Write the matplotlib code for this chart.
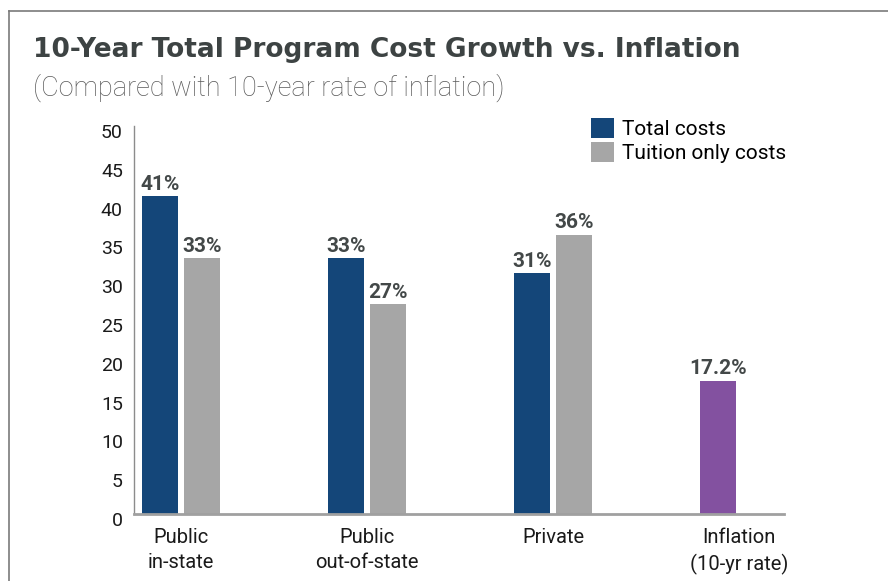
import numpy as np
import matplotlib
matplotlib.use("Agg")
import matplotlib.pyplot as plt
from matplotlib.lines import Line2D
from matplotlib.transforms import ScaledTranslation

# bar data (percent growth over 10 years)
categories = ['Public\nin-state', 'Public\nout-of-state', 'Private', 'Inflation\n(10-yr rate)']
total_costs = [41, 33, 31]
tuition_costs = [33, 27, 36]
inflation_rate = 17.2
y_ticks = [0, 5, 10, 15, 20, 25, 30, 35, 40, 45, 50]

BLUE = '#144679'
GRAY = '#a6a6a6'
PURPLE = '#8351a0'
LABEL_COLOR = '#434848'
TITLE_COLOR = '#3d4343'

plt.rcParams['font.family'] = ['Roboto', 'DejaVu Sans']

fig = plt.figure(figsize=(8.88, 5.81), dpi=100)
ax = fig.add_axes([134 / 888, 67 / 581, 650 / 888, 388 / 581])

x = np.arange(len(categories))
width = 0.194
off = 0.113

b1 = ax.bar(x[:3] - off, total_costs, width, color=BLUE, label='Total costs')
b2 = ax.bar(x[:3] + off, tuition_costs, width, color=GRAY, label='Tuition only costs')
b3 = ax.bar(x[3] - off, inflation_rate, width, color=PURPLE)

# value labels above each bar
for bars, vals in ((b1, total_costs), (b2, tuition_costs), (b3, [inflation_rate])):
    for rect, v in zip(bars, vals):
        ax.annotate(f'{v:g}%', (rect.get_x() + rect.get_width() / 2, v),
                    xytext=(0, 4.5), textcoords='offset points',
                    ha='center', va='baseline', fontsize=15, fontweight='bold',
                    color=LABEL_COLOR)

ax.set_ylim(0, 50)
ax.set_xlim(-0.253, 3.242)
ax.set_yticks(y_ticks)
ax.set_xticks(x)
ax.set_xticklabels(categories, fontsize=14.5, color='#1a1a1a', linespacing=1.4)
ax.tick_params(axis='y', labelsize=14, labelcolor='#1a1a1a', length=0, pad=8)
ax.tick_params(axis='x', length=0, pad=10)
for lab in ax.get_yticklabels():
    lab.set_transform(lab.get_transform() + ScaledTranslation(0, -5 / 100, fig.dpi_scale_trans))

for s in ('top', 'right'):
    ax.spines[s].set_visible(False)
ax.spines['left'].set_color('#8c8c8c')
ax.spines['left'].set_linewidth(1.0)
ax.spines['bottom'].set_color('#a0a0a0')
ax.spines['bottom'].set_linewidth(2.0)

fig.legend(handles=[b1, b2], loc='upper left',
           bbox_to_anchor=(591 / 888, 1 - 118 / 581), frameon=False,
           fontsize=15, handlelength=1.1, handleheight=1.1,
           handletextpad=0.4, labelspacing=0.12, borderpad=0, borderaxespad=0)

fig.text(33 / 888, 1 - 57 / 581, '10-Year Total Program Cost Growth vs. Inflation',
         fontsize=19, fontweight='bold', color=TITLE_COLOR, va='baseline',
         family=['DejaVu Sans'])
fig.text(33 / 888, 1 - 96 / 581, '(Compared with 10-year rate of inflation)',
         fontsize=19.5, fontweight='light', color='#5a5a5a', va='baseline')

# frame lines along the top and left edge
fig.add_artist(Line2D([9 / 888, 1], [1 - 11 / 581] * 2, color='#7a7a7a', lw=1.2,
                      transform=fig.transFigure))
fig.add_artist(Line2D([9 / 888] * 2, [0, 1 - 11 / 581], color='#7a7a7a', lw=1.2,
                      transform=fig.transFigure))

fig.savefig('out.png', dpi=100)
